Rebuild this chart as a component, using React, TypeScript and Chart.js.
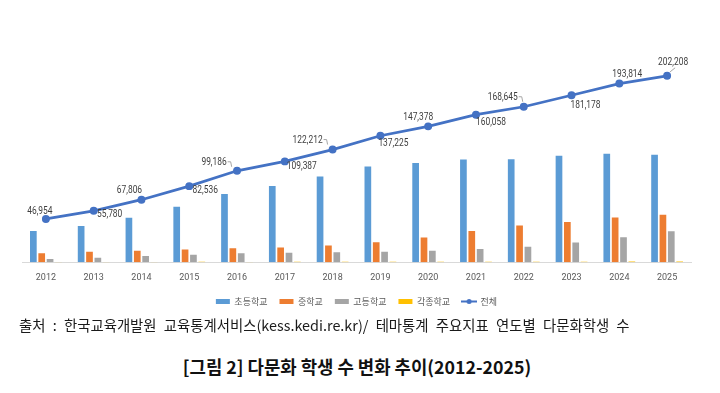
import React, { useEffect, useRef } from 'react';
import { Chart, registerables } from 'chart.js';

Chart.register(...registerables);

const years = ['2012', '2013', '2014', '2015', '2016', '2017', '2018', '2019', '2020', '2021', '2022', '2023', '2024', '2025'];
const elementary = [33740, 39360, 48297, 60162, 73972, 82733, 93027, 103881, 107694, 111371, 111640, 115500, 117700, 116600];
const middle = [9627, 11294, 12506, 13827, 15080, 15945, 18068, 21693, 26773, 33950, 39714, 43600, 48400, 51400];
const high = [3409, 4858, 6734, 8146, 9816, 10334, 10688, 11234, 12478, 14308, 16744, 21500, 27000, 33500];
const various = [178, 268, 269, 401, 318, 375, 429, 417, 433, 429, 547, 578, 700, 700];
const totals = [46954, 55780, 67806, 82536, 99186, 109387, 122212, 137225, 147378, 160058, 168645, 181178, 193814, 202208];
const seriesNames = ['초등학교', '중학교', '고등학교', '각종학교', '전체'];

// label placement relative to each line point: [dx, dy, leader line]
const labelOffsets: [number, number, number][] = [
  [-6, -8, 0], [16, 4, 0], [-12, -9, 0], [16, 4, 0], [-23, -8, 1], [17, 5, 0], [-25, -9, 1],
  [13, 8, 0], [-10, -9, 0], [15, 8, 0], [-21, -9, 1], [14, 10, 0], [8, -9, 0], [6, -13, 2],
];

const SANS = 'Roboto, "Noto Sans", sans-serif';
const KR = '"Noto Sans CJK KR", sans-serif';
const LINE_COLOR = '#4472C4';

const lineLabelPlugin = {
  id: 'lineLabels',
  afterDatasetsDraw(chart: any) {
    const meta = chart.getDatasetMeta(4);
    const ctx = chart.ctx as CanvasRenderingContext2D;
    const sx = 0.8;
    ctx.save();
    ctx.font = '10.5px ' + SANS;
    ctx.textAlign = 'center';
    ctx.textBaseline = 'middle';
    meta.data.forEach((pt: any, i: number) => {
      const [dx, dy, leader] = labelOffsets[i];
      const x = pt.x + dx;
      const y = pt.y + dy;
      const text = totals[i].toLocaleString('en-US');
      const w = ctx.measureText(text).width * sx;
      ctx.save();
      ctx.translate(x, y);
      ctx.scale(sx, 1);
      ctx.fillStyle = '#404040';
      ctx.fillText(text, 0, 0);
      ctx.restore();
      ctx.strokeStyle = '#A6A6A6';
      ctx.lineWidth = 1;
      if (leader === 1) {
        ctx.beginPath();
        ctx.moveTo(x + w / 2 + 1, y - 1);
        ctx.lineTo(x + w / 2 + 4, y - 1);
        ctx.lineTo(x + w / 2 + 5, y + 4);
        ctx.stroke();
      } else if (leader === 2) {
        ctx.beginPath();
        ctx.moveTo(x + 2, y + 5);
        ctx.lineTo(pt.x + 3, pt.y - 4);
        ctx.stroke();
      }
    });
    ctx.restore();
  },
};

function makeLineIcon(): HTMLCanvasElement {
  const c = document.createElement('canvas');
  c.width = 16;
  c.height = 7;
  const g = c.getContext('2d') as CanvasRenderingContext2D;
  g.strokeStyle = LINE_COLOR;
  g.lineWidth = 2;
  g.beginPath();
  g.moveTo(0, 3.5);
  g.lineTo(16, 3.5);
  g.stroke();
  g.fillStyle = LINE_COLOR;
  g.beginPath();
  g.arc(8, 3.5, 2.5, 0, Math.PI * 2);
  g.fill();
  return c;
}

function ChartView() {
  const ref = useRef<HTMLCanvasElement | null>(null);
  useEffect(() => {
    if (!ref.current) return;
    const lineIcon = makeLineIcon();
    const barCommon = { categoryPercentage: 0.7, barPercentage: 0.8 };
    const chart = new Chart(ref.current, {
      type: 'bar',
      data: {
        labels: years,
        datasets: [
          { type: 'bar', label: seriesNames[0], data: elementary, backgroundColor: '#5B9BD5', ...barCommon },
          { type: 'bar', label: seriesNames[1], data: middle, backgroundColor: '#ED7D31', ...barCommon },
          { type: 'bar', label: seriesNames[2], data: high, backgroundColor: '#A5A5A5', ...barCommon },
          { type: 'bar', label: seriesNames[3], data: various, backgroundColor: '#FFC000', ...barCommon },
          {
            type: 'line', label: seriesNames[4], data: totals, borderColor: LINE_COLOR, backgroundColor: LINE_COLOR,
            borderWidth: 2.75, pointRadius: 2.6, pointBackgroundColor: LINE_COLOR, pointBorderColor: LINE_COLOR, tension: 0,
          },
        ] as any,
      },
      options: {
        animation: false,
        responsive: false,
        devicePixelRatio: 1,
        layout: { padding: { left: 22, right: 29, top: 41, bottom: 2 } },
        scales: {
          x: {
            grid: { display: false },
            border: { display: true, color: '#D9D9D9' },
            ticks: { color: '#595959', font: { size: 9, family: SANS }, padding: 2 },
          },
          y: { display: false, min: 0, max: 240000 },
        },
        plugins: {
          legend: {
            position: 'bottom',
            labels: {
              usePointStyle: true,
              pointStyleWidth: 14,
              boxWidth: 14,
              boxHeight: 5,
              padding: 12,
              color: '#595959',
              font: { size: 9, family: KR },
              generateLabels: (ch: any) => {
                const items = (Chart.defaults.plugins.legend.labels as any).generateLabels(ch);
                return items.map((it: any, i: number) => ({
                  ...it,
                  pointStyle: i === items.length - 1 ? lineIcon : 'rect',
                  lineWidth: 0,
                  strokeStyle: it.fillStyle,
                }));
              },
            },
          },
          tooltip: { enabled: false },
        },
      } as any,
      plugins: [lineLabelPlugin],
    });
    return () => chart.destroy();
  }, []);
  return <canvas ref={ref} width={720} height={318} style={{ display: 'block', width: 720, height: 318 }} />;
}

export default function App() {
  return (
    <div style={{ position: 'absolute', left: 0, top: 0, width: 720, height: 393, background: '#fff', overflow: 'hidden' }}>
      <ChartView />
      <div style={{ position: 'absolute', left: 19, top: 314, whiteSpace: 'nowrap', fontFamily: KR, fontSize: 14.4, lineHeight: '22px', color: '#1a1a1a', wordSpacing: 4 }}>
        출처 : 한국교육개발원 교육통계서비스(kess.kedi.re.kr)/ 테마통계 주요지표 연도별 다문화학생 수
      </div>
      <div style={{ position: 'absolute', left: 0, width: 714, top: 354, textAlign: 'center', whiteSpace: 'nowrap', fontFamily: KR, fontSize: 17.8, fontWeight: 700, lineHeight: '24px', color: '#111' }}>
        [그림 2] 다문화 학생 수 변화 추이(2012-2025)
      </div>
    </div>
  );
}
